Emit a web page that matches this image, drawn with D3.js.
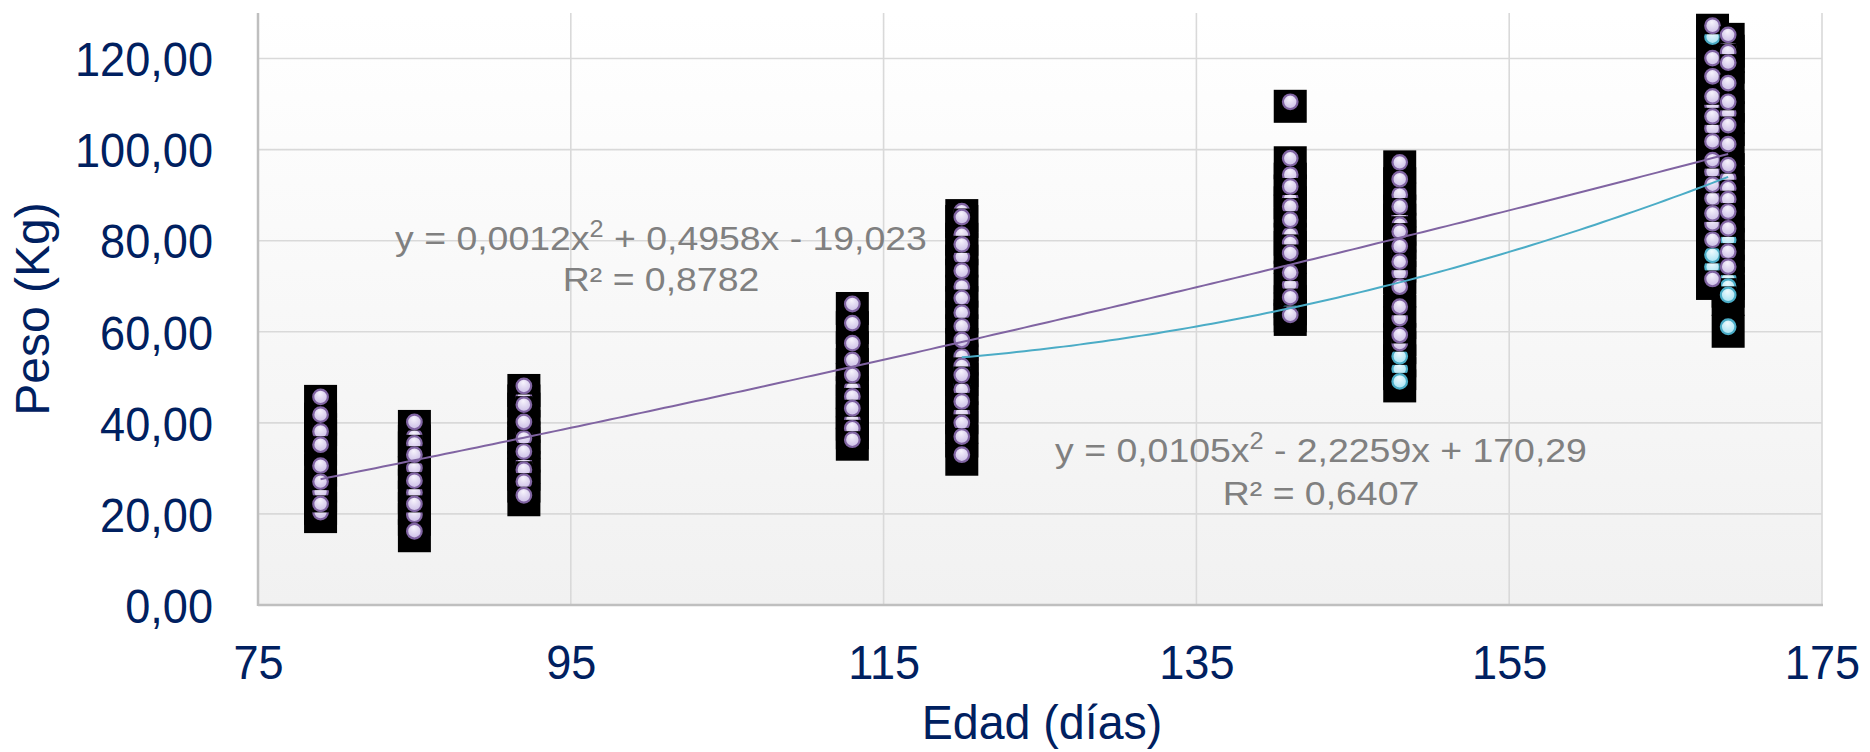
<!DOCTYPE html>
<html>
<head>
<meta charset="utf-8">
<script src="https://cdn.jsdelivr.net/npm/d3@7"></script>
<style>
  html, body { margin: 0; padding: 0; background: #ffffff; }
  svg { display: block; }
</style>
</head>
<body>
<svg id="chart" width="1870" height="752"></svg>
<script>
// ---- data ----------------------------------------------------------------
// Age of each weighing group (days)
const edadesSerie1 = [79, 85, 92, 113, 120, 141, 148, 168, 169];
// Weights (kg) of series 1 for each age, in recording order
const pesosSerie1 = [
  [39.5, 38.1, 24.9, 20.4, 45.7, 41.8, 35.2, 30.6, 27.1, 22.2],
  [37.0, 35.5, 30.1, 24.7, 19.8, 40.2, 33.0, 27.3, 22.2, 16.2],
  [45.8, 37.7, 36.6, 31.2, 29.7, 27.1, 48.1, 44.0, 40.2, 33.7, 24.1],
  [47.6, 45.8, 40.7, 38.8, 66.1, 61.9, 57.5, 53.8, 50.5, 43.2, 36.3],
  [86.5, 81.3, 76.5, 69.9, 54.6, 52.5, 47.3, 42.1, 40.0, 85.2, 79.2, 73.4, 67.4, 64.2, 61.2, 58.2, 50.5, 44.7, 37.0, 33.0],
  [94.5, 89.3, 87.5, 81.3, 79.5, 70.3, 110.5, 98.1, 91.9, 84.6, 77.3, 73.0, 67.6, 63.7],
  [85.5, 90.1, 80.5, 87.5, 77.2, 83.5, 72.9, 82.0, 69.9, 78.8, 75.4, 63.0, 57.5, 97.2, 93.5, 65.5, 59.3],
  [109.8, 104.7, 95.2, 89.3, 83.8, 127.2, 120.1, 116.1, 111.7, 107.3, 101.8, 97.7, 92.3, 86.0, 80.2, 71.6],
  [122.6, 121.4, 108.0, 93.7, 91.5, 125.2, 119.1, 114.6, 110.5, 105.4, 101.2, 96.6, 89.1, 86.4, 82.7, 77.6, 74.3]
];
const edadesSerie2 = [120, 141, 148, 168, 169];
const pesosSerie2 = [
  [55.0, 52.0, 48.5],
  [66.0, 64.5],
  [51.8, 54.6, 49.1],
  [74.3, 76.9, 124.8],
  [80.2, 71.6, 69.9, 68.1, 61.1]
];
// Polynomial trend lines: [a, b, c] for y = a x^2 + b x + c
const coefSerie1 = [0.0012, 0.4958, -19.023];
const r2Serie1 = 0.8782;
const coefSerie2 = [0.0105, -2.2259, 170.29];
const r2Serie2 = 0.6407;

const xTicks = [75, 95, 115, 135, 155, 175];
const yTicks = [0, 20, 40, 60, 80, 100, 120];
const xTitle = "Edad (días)";
const yTitle = "Peso (Kg)";

// ---- layout ----------------------------------------------------------------
const plotLeft = 258, plotRight = 1822, plotTop = 13, plotBottom = 605;
const svg = d3.select("#chart");
const x = d3.scaleLinear().domain([75, 175]).range([plotLeft, plotRight]);
const y = d3.scaleLinear().domain([0, 130]).range([plotBottom, plotTop]);

const es = d3.formatLocale({ decimal: ",", thousands: ".", grouping: [3], currency: ["", "€"] });
const fmtY = es.format(".2f");
const font = "'Liberation Sans', Arial, sans-serif";
const navy = "#002060";

const defs = svg.append("defs");
const bg = defs.append("linearGradient").attr("id", "plotBg")
  .attr("x1", 0).attr("y1", 0).attr("x2", 0).attr("y2", 1);
bg.append("stop").attr("offset", "0%").attr("stop-color", "#ffffff");
bg.append("stop").attr("offset", "100%").attr("stop-color", "#f1f1f1");

function markerGradient(id, c0, c1) {
  const g = defs.append("radialGradient").attr("id", id)
    .attr("cx", "50%").attr("cy", "40%").attr("r", "60%").attr("fx", "45%").attr("fy", "25%");
  g.append("stop").attr("offset", "0%").attr("stop-color", c0);
  g.append("stop").attr("offset", "100%").attr("stop-color", c1);
}
markerGradient("fillMorado", "#f7f4fc", "#cbbde6");
markerGradient("fillCian", "#f0fbfe", "#a6e2f3");

// plot area
svg.append("rect").attr("x", plotLeft).attr("y", plotTop)
  .attr("width", plotRight - plotLeft).attr("height", plotBottom - plotTop)
  .attr("fill", "url(#plotBg)");

// grid lines
const grid = svg.append("g").attr("stroke", "#d9d9d9").attr("stroke-width", 1.6);
grid.selectAll("line.h").data(yTicks.filter(v => v > 0)).join("line").attr("class", "h")
  .attr("x1", plotLeft).attr("x2", plotRight)
  .attr("y1", d => y(d)).attr("y2", d => y(d));
grid.selectAll("line.v").data(xTicks.filter(v => v > 75)).join("line").attr("class", "v")
  .attr("y1", plotTop).attr("y2", plotBottom)
  .attr("x1", d => x(d)).attr("x2", d => x(d));

// axis lines
svg.append("line").attr("x1", plotLeft).attr("x2", plotLeft).attr("y1", plotTop).attr("y2", plotBottom + 1)
  .attr("stroke", "#bfbfbf").attr("stroke-width", 2.5);
svg.append("line").attr("x1", plotLeft).attr("x2", plotRight + 1).attr("y1", plotBottom).attr("y2", plotBottom)
  .attr("stroke", "#bfbfbf").attr("stroke-width", 2.5);

// points as flat records
function flatten(edades, pesos, serie) {
  const out = [];
  edades.forEach((e, i) => pesos[i].forEach(p => out.push({ edad: e, peso: p, serie })));
  return out;
}
const puntos2 = flatten(edadesSerie2, pesosSerie2, 2);
const puntos1 = flatten(edadesSerie1, pesosSerie1, 1);
const todos = puntos2.concat(puntos1);

// dark backing boxes behind the markers
svg.append("g").selectAll("rect").data(todos).join("rect")
  .attr("x", d => x(d.edad) - 16.5)
  .attr("y", d => y(d.peso) - 12)
  .attr("width", 33).attr("height", 33)
  .attr("fill", "#000000");

// markers
const mk = svg.append("g").selectAll("g").data(todos).join("g")
  .attr("transform", d => `translate(${x(d.edad)},${y(d.peso)})`);
mk.append("rect").attr("x", -8.5).attr("y", -8.5).attr("width", 17).attr("height", 17)
  .attr("fill", "#000000");
mk.append("circle").attr("r", 7.3)
  .attr("fill", d => d.serie === 1 ? "url(#fillMorado)" : "url(#fillCian)")
  .attr("stroke", d => d.serie === 1 ? "#8064a2" : "#4bacc6")
  .attr("stroke-width", 2.2);

// trend lines
function poly(c) { return t => c[0] * t * t + c[1] * t + c[2]; }
function trend(coef, edades, color) {
  const f = poly(coef);
  const x0 = d3.min(edades), x1 = d3.max(edades);
  const pts = d3.range(x0, x1 + 0.001, 0.5).map(t => [t, f(t)]);
  svg.append("path").datum(pts)
    .attr("d", d3.line().x(d => x(d[0])).y(d => y(d[1])))
    .attr("fill", "none").attr("stroke", color).attr("stroke-width", 2);
}
trend(coefSerie1, edadesSerie1, "#8064a2");
trend(coefSerie2, edadesSerie2, "#4bacc6");

// trend equations
const dec = v => String(Math.abs(v)).replace(".", ",");
const sgn = v => (v < 0 ? " - " : " + ");
function ecuacion(coef, r2, cx, base1, base2) {
  const g = svg.append("g").attr("transform", `translate(${cx},0) scale(1.1,1)`);
  const t = g.append("text").attr("x", 0).attr("y", base1)
    .attr("text-anchor", "middle").attr("font-family", font)
    .attr("font-size", 34).attr("fill", "#808080");
  t.append("tspan").text(`y = ${dec(coef[0])}x`);
  t.append("tspan").attr("dy", -13).attr("font-size", 23).text("2");
  t.append("tspan").attr("dy", 13).text(`${sgn(coef[1])}${dec(coef[1])}x${sgn(coef[2])}${dec(coef[2])}`);
  g.append("text").attr("x", 0).attr("y", base2)
    .attr("text-anchor", "middle").attr("font-family", font)
    .attr("font-size", 34).attr("fill", "#808080")
    .text(`R² = ${dec(r2)}`);
}
ecuacion(coefSerie1, r2Serie1, 661, 250, 291);
ecuacion(coefSerie2, r2Serie2, 1321, 462, 505);

// axis labels
const yAxis = svg.append("g").attr("transform", `translate(${plotLeft},0)`)
  .call(d3.axisLeft(y).tickValues(yTicks).tickFormat(fmtY).tickSize(0).tickPadding(0));
yAxis.select(".domain").remove();
yAxis.selectAll("text")
  .attr("font-family", font).attr("font-size", 48).attr("fill", navy)
  .attr("x", -45 / 0.94).attr("dy", "0.36em")
  .attr("transform", "scale(0.94,1)");

const xAxis = svg.append("g").attr("transform", `translate(0,${plotBottom})`)
  .call(d3.axisBottom(x).tickValues(xTicks).tickFormat(d3.format("d")).tickSize(0).tickPadding(0));
xAxis.select(".domain").remove();
xAxis.selectAll("text")
  .attr("font-family", font).attr("font-size", 48).attr("fill", navy)
  .attr("y", 74).attr("dy", 0)
  .attr("transform", "scale(0.94,1)")
  .attr("x", 0);

svg.append("text")
  .attr("transform", `translate(${(plotLeft + plotRight) / 2 + 2},739) scale(0.97,1)`)
  .attr("text-anchor", "middle").attr("font-family", font)
  .attr("font-size", 48).attr("fill", navy).text(xTitle);

svg.append("text")
  .attr("transform", `translate(49,309) rotate(-90)`)
  .attr("text-anchor", "middle").attr("font-family", font)
  .attr("font-size", 48).attr("fill", navy).text(yTitle);
</script>
</body>
</html>
